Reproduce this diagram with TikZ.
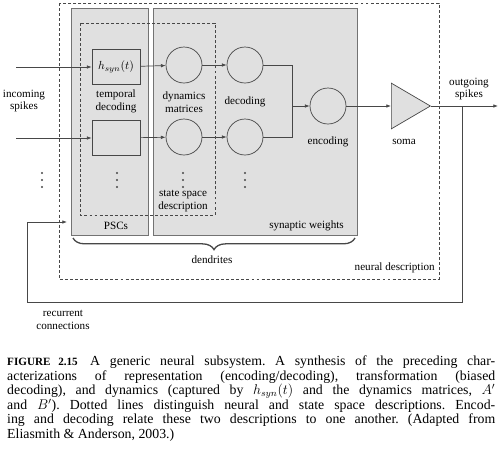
\documentclass[tikz,border=0pt]{standalone}
\usepackage{fontspec}
\setmainfont{Liberation Serif}
\usetikzlibrary{arrows.meta,shapes.geometric,decorations.pathreplacing}

\colorlet{traco}{black!72}
\colorlet{cinza}{black!12}

\tikzset{
  caixa/.style={draw=traco, fill=cinza, line width=0.6pt, minimum width=1.44cm, minimum height=1.05cm, inner sep=0pt},
  circulo/.style={circle, draw=traco, line width=0.6pt, minimum size=1.08cm, inner sep=0pt},
  rotulo/.style={align=center, inner sep=0pt, font=\fontsize{9.5}{11}\selectfont},
  seta/.style={-{Latex[length=4pt,width=3pt]}, draw=traco, line width=0.6pt},
  linha/.style={draw=traco, line width=0.6pt},
  tracejado/.style={draw=traco, line width=0.5pt, dash pattern=on 2.5pt off 1.8pt},
  regiao/.style={draw=black!55, fill=cinza, line width=0.8pt},
}

\begin{document}
\begin{tikzpicture}[x=0.03cm, y=-0.03cm]
  \useasboundingbox (0,0) rectangle (500,467);

  % regiões cinzentas (PSCs e pesos sinápticos)
  \filldraw[regiao] (71,8) rectangle (148,235);
  \filldraw[regiao] (153,8) rectangle (357,235);

  % descrição neural e espaço de estados (tracejadas)
  \draw[tracejado] (59,3) rectangle (439,279);
  \draw[tracejado] (80,23) rectangle (215,215);

  % blocos
  \node[caixa] (hsyn) at (116,67) {$h_{syn}(t)$};
  \node[caixa] (psc) at (116,138) {};
  \node[circulo] (dyn1) at (184,65) {};
  \node[circulo] (dyn2) at (184,137) {};
  \node[circulo] (dec1) at (245,65) {};
  \node[circulo] (dec2) at (245,137) {};
  \node[circulo] (enc) at (328,106) {};
  \node[isosceles triangle, isosceles triangle stretches, draw=traco, fill=cinza, line width=0.6pt,
        minimum width=1.37cm, minimum height=1.17cm, inner sep=0pt, anchor=west] (soma) at (391,106) {};

  % pontos auxiliares
  \coordinate (in1) at (16,67);
  \coordinate (in2) at (16,138);
  \coordinate (junc) at (292,106);
  \coordinate (out) at (498,106);
  \coordinate (ramo) at (462,106);
  \coordinate (canto) at (27,302);
  \coordinate (rec) at (67,222);

  % setas
  \draw[seta] (in1) -- (hsyn.west);
  \draw[seta] (in2) -- (psc.west);
  \draw[seta] (hsyn) -- (dyn1);
  \draw[seta] (psc) -- (dyn2);
  \draw[seta] (dyn1) -- (dec1);
  \draw[seta] (dyn2) -- (dec2);
  \draw[linha] (dec1.east) -| (junc);
  \draw[linha] (dec2.east) -| (junc);
  \draw[seta] (junc) -- (enc.west);
  \draw[seta] (enc) -- (soma.west);
  \draw[seta] (soma.apex) -- (out);
  % ligações recorrentes
  \draw[seta] (ramo) |- (canto) |- (rec);

  % reticências
  \foreach \x in {42,117,183,245}
    \foreach \y in {173,180,187}
      \fill[traco] (\x,\y) circle (0.9pt);

  % chaveta das dendrites
  \draw[traco, line width=1.1pt, decorate, decoration={brace, mirror, amplitude=0.35cm}] (73,238) -- (355,238);

  % rótulos
  \node[rotulo] (lin) at (24,101) {incoming\\spikes};
  \node[rotulo] (ltemp) at (116,101.5) {temporal\\decoding};
  \node[rotulo] (ldyn) at (184,102) {dynamics\\matrices};
  \node[rotulo] (ldec) at (245,102) {decoding};
  \node[rotulo] (lenc) at (328,142) {encoding};
  \node[rotulo] (lsoma) at (404,142) {soma};
  \node[rotulo] (lout) at (469,89) {outgoing\\spikes};
  \node[rotulo] (lss) at (183,201) {state space\\description};
  \node[rotulo] (lpsc) at (116,226) {PSCs};
  \node[rotulo, anchor=east] (lsyn) at (344,226) {synaptic weights};
  \node[rotulo] (lden) at (212,260) {dendrites};
  \node[rotulo, anchor=east] (lneu) at (435,268) {neural description};
  \node[rotulo] (lrec) at (63,320) {recurrent\\connections};

  % legenda
  \node[anchor=north west, inner sep=0pt, text width=14.64cm, align=justify,
        font=\fontsize{11.8}{12.3}\selectfont] (legenda) at (7,356)
    {\tolerance=10000\frenchspacing{\bfseries\fontsize{9.5}{12.3}\selectfont FIGURE 2.15}\hspace{0.9em}A generic neural subsystem. A synthesis of the preceding char-\linebreak
     acterizations of representation (encoding/decoding), transformation (biased\linebreak
     decoding), and dynamics (captured by $h_{syn}(t)$ and the dynamics matrices, $A'$\linebreak
     and $B'$). Dotted lines distinguish neural and state space descriptions. Encod-\linebreak
     ing and decoding relate these two descriptions to one another. (Adapted from\linebreak
     Eliasmith \& Anderson, 2003.)};
\end{tikzpicture}
\end{document}
